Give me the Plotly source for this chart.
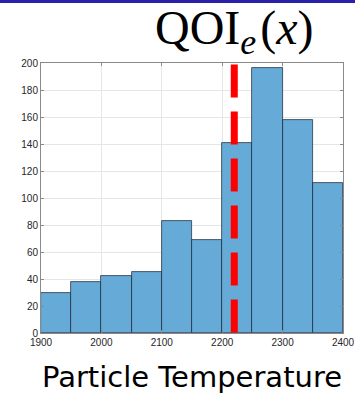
import plotly.graph_objects as go

# Data
bin_edges = [1900, 1950, 2000, 2050, 2100, 2150, 2200, 2250, 2300, 2350, 2400]
counts = [30, 38, 42, 45, 83, 69, 141, 196, 158, 111]
qoi_value = 2220
x_ticks = [1900, 2000, 2100, 2200, 2300, 2400]
y_ticks = [0, 20, 40, 60, 80, 100, 120, 140, 160, 180, 200]

centers = [(a + b) / 2 for a, b in zip(bin_edges[:-1], bin_edges[1:])]
widths = [b - a for a, b in zip(bin_edges[:-1], bin_edges[1:])]

fig = go.Figure()
fig.add_trace(go.Bar(
    x=centers, y=counts, width=widths,
    marker=dict(color="#66aad7", line=dict(color="rgba(20,30,45,0.85)", width=0.8)),
    showlegend=False, hoverinfo="skip",
))
fig.add_trace(go.Scatter(
    x=[qoi_value, qoi_value], y=[y_ticks[-1] - 1.2, 0], mode="lines",
    line=dict(color="#ff0000", width=7, dash="33px,14px"),
    showlegend=False, hoverinfo="skip",
))

W, H = 355, 397
L, R, T, B = 41, 12, 63, 64
pw, ph = W - L - R, H - T - B

fig.update_layout(
    width=W, height=H,
    margin=dict(l=L, r=R, t=T, b=B, autoexpand=False),
    paper_bgcolor="white", plot_bgcolor="white",
    bargap=0,
    font=dict(family="Liberation Sans, Arial, sans-serif", color="#262626", size=10),
    xaxis=dict(
        range=[bin_edges[0], bin_edges[-1]], tickvals=x_ticks,
        ticktext=[str(v) for v in x_ticks],
        showgrid=True, gridcolor="#e6e6e6", gridwidth=1,
        showline=True, linecolor="#8a8a8a", linewidth=1, mirror="ticks",
        ticks="inside", ticklen=3, tickcolor="#8a8a8a",
        zeroline=False, automargin=False,
        title=dict(text="Particle Temperature",
                   font=dict(family="DejaVu Sans, sans-serif", size=29, color="#000000"),
                   standoff=19),
    ),
    yaxis=dict(
        range=[0, 200], tickvals=y_ticks,
        showgrid=True, gridcolor="#e6e6e6", gridwidth=1,
        showline=True, linecolor="#8a8a8a", linewidth=1, mirror="ticks",
        ticks="inside", ticklen=3, tickcolor="#8a8a8a",
        zeroline=False, automargin=False,
    ),
    shapes=[dict(
        type="rect", xref="paper", yref="paper",
        x0=-L / pw, x1=1 + R / pw, y0=1 + (T - 3) / ph, y1=1 + T / ph + 0.01,
        fillcolor="#2b20a8", line=dict(width=0), layer="above",
    )],
    annotations=[dict(
        text="QOI<sub><span style='font-size:36px'><i>e</i></span></sub>&#8202;(<i>x</i>)",
        xref="paper", yref="paper",
        x=(234 - L) / pw, y=1 + (T - 31) / ph, xanchor="center", yanchor="middle",
        showarrow=False,
        font=dict(family="Liberation Serif, DejaVu Serif, serif", size=48, color="#000000"),
    )],
)

fig.write_html("out.html", config={"displayModeBar": False},
               post_script="document.body.style.margin='0';document.body.style.overflow='hidden';")
